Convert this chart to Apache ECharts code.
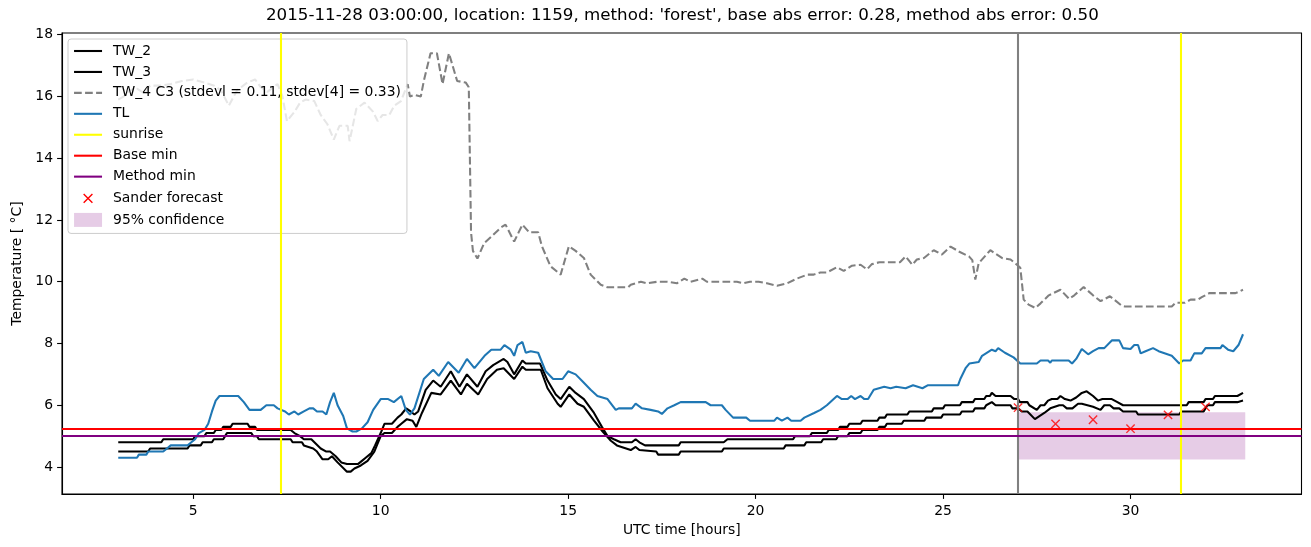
<!DOCTYPE html>
<html><head><meta charset="utf-8">
<script src="https://cdn.jsdelivr.net/npm/echarts@6/dist/echarts.min.js"></script>
<style>html,body{margin:0;padding:0;background:#fff}#c{width:1311px;height:547px}</style>
</head><body><div id="c"></div>
<script>
const titleText = "2015-11-28 03:00:00, location: 1159, method: 'forest', base abs error: 0.28, method abs error: 0.50";
const names = ['TW_2', 'TW_3', 'TW_4 C3 (stdevl = 0.11, stdev[4] = 0.33)', 'TL', 'sunrise', 'Base min', 'Method min', 'Sander forecast', '95% confidence'];
const xTicks = [5, 10, 15, 20, 25, 30];
const yTicks = [4, 6, 8, 10, 12, 14, 16, 18];

const tw2 = [[3.0,4.8],[4.15,4.8],[4.2,4.9],[5.0,4.9],[5.05,5.0],[5.3,5.0],[5.35,5.1],[5.55,5.1],[5.6,5.2],[5.75,5.2],[5.8,5.3],[6.0,5.3],[6.05,5.4],[6.45,5.4],[6.5,5.3],[6.65,5.3],[6.7,5.2],[7.6,5.2],[7.7,5.1],[7.85,5.0],[7.95,4.9],[8.15,4.9],[8.2,4.85],[8.4,4.6],[8.55,4.5],[8.65,4.5],[8.8,4.35],[8.95,4.15],[9.1,4.1],[9.4,4.1],[9.5,4.2],[9.6,4.3],[9.75,4.45],[9.85,4.7],[10.0,5.1],[10.1,5.4],[10.3,5.4],[10.45,5.6],[10.55,5.7],[10.68,5.9],[10.8,5.8],[10.9,5.7],[11.0,5.8],[11.2,6.5],[11.4,6.8],[11.6,6.6],[11.87,7.1],[12.1,6.6],[12.3,7.0],[12.58,6.6],[12.8,7.1],[13.0,7.3],[13.28,7.5],[13.38,7.4],[13.56,7.0],[13.78,7.45],[13.87,7.35],[14.25,7.35],[14.45,6.8],[14.67,6.35],[14.8,6.2],[15.03,6.6],[15.2,6.4],[15.42,6.2],[15.69,5.75],[15.9,5.3],[16.05,5.0],[16.22,4.9],[16.4,4.8],[16.7,4.8],[16.8,4.9],[16.9,4.8],[17.05,4.7],[17.95,4.7],[18.0,4.8],[19.15,4.8],[19.25,4.9],[21.0,4.9],[21.05,5.0],[21.45,5.0],[21.5,5.1],[21.9,5.1],[21.95,5.2],[22.2,5.2],[22.25,5.3],[22.45,5.3],[22.5,5.4],[22.8,5.4],[22.85,5.5],[23.25,5.5],[23.3,5.6],[23.45,5.6],[23.5,5.7],[24.05,5.7],[24.1,5.8],[24.7,5.8],[24.75,5.9],[25.0,5.9],[25.05,6.0],[25.45,6.0],[25.5,6.1],[25.8,6.1],[25.85,6.2],[26.1,6.2],[26.15,6.3],[26.25,6.3],[26.3,6.4],[26.4,6.3],[26.8,6.3],[26.9,6.2],[27.0,6.2],[27.05,6.1],[27.25,6.1],[27.3,6.0],[27.5,5.85],[27.6,6.0],[27.7,6.0],[27.8,6.15],[27.9,6.2],[28.05,6.2],[28.13,6.3],[28.25,6.2],[28.4,6.15],[28.55,6.25],[28.7,6.4],[28.83,6.45],[29.0,6.3],[29.13,6.15],[29.25,6.2],[29.5,6.2],[29.65,6.1],[29.8,6.0],[31.5,6.0],[31.55,6.1],[31.95,6.1],[32.0,6.2],[32.2,6.2],[32.25,6.3],[32.85,6.3],[33.0,6.4]];

const tw3 = [[3.0,4.5],[3.8,4.5],[3.85,4.6],[4.85,4.6],[4.9,4.7],[5.2,4.7],[5.25,4.8],[5.5,4.8],[5.55,4.9],[5.8,4.9],[5.85,5.0],[5.9,5.1],[6.55,5.1],[6.6,5.0],[6.7,5.0],[6.75,4.9],[7.6,4.9],[7.65,4.8],[7.9,4.8],[7.95,4.7],[8.2,4.6],[8.3,4.5],[8.45,4.25],[8.6,4.25],[8.7,4.35],[8.85,4.15],[9.1,3.85],[9.2,3.85],[9.3,3.95],[9.47,4.05],[9.65,4.2],[9.83,4.5],[10.0,5.0],[10.1,5.1],[10.3,5.1],[10.45,5.3],[10.55,5.4],[10.7,5.55],[10.85,5.5],[10.95,5.3],[11.1,5.75],[11.35,6.4],[11.6,6.35],[11.87,6.8],[12.14,6.35],[12.3,6.7],[12.6,6.35],[12.84,6.85],[13.1,7.15],[13.28,7.2],[13.56,6.85],[13.78,7.25],[13.87,7.15],[14.27,7.15],[14.45,6.55],[14.72,6.05],[14.8,5.95],[15.03,6.35],[15.25,6.05],[15.42,5.95],[15.69,5.5],[15.92,5.15],[16.14,4.85],[16.3,4.7],[16.67,4.55],[16.8,4.65],[16.9,4.55],[17.35,4.5],[17.4,4.4],[17.95,4.4],[18.0,4.5],[19.1,4.5],[19.15,4.6],[20.75,4.6],[20.8,4.7],[21.3,4.7],[21.35,4.8],[21.75,4.8],[21.8,4.9],[22.15,4.9],[22.2,5.0],[22.45,5.0],[22.5,5.1],[22.8,5.1],[22.85,5.2],[23.25,5.2],[23.3,5.3],[23.45,5.3],[23.5,5.4],[23.9,5.4],[23.95,5.5],[24.5,5.5],[24.55,5.6],[24.95,5.6],[25.0,5.7],[25.45,5.7],[25.5,5.8],[25.8,5.8],[25.85,5.9],[26.1,5.9],[26.15,6.0],[26.3,6.1],[26.4,6.0],[26.8,6.0],[26.85,5.9],[27.0,5.9],[27.1,5.8],[27.25,5.8],[27.45,5.55],[27.7,5.75],[27.86,5.9],[28.1,6.0],[28.2,6.0],[28.3,5.9],[28.45,5.9],[28.6,6.05],[28.7,6.05],[28.85,6.0],[29.0,5.95],[29.2,5.85],[29.3,6.0],[29.45,6.0],[29.55,5.9],[29.7,5.9],[29.8,5.8],[30.15,5.8],[30.2,5.7],[31.3,5.7],[31.35,5.8],[31.95,5.8],[32.05,6.0],[32.2,6.0],[32.25,6.1],[32.85,6.1],[33.0,6.15]];

const tw4 = [[3.0,15.9],[3.15,16.0],[3.3,16.2],[3.5,16.25],[3.7,16.1],[3.85,16.35],[4.1,16.35],[4.4,16.4],[4.7,16.5],[5.0,16.55],[5.3,16.45],[5.56,16.35],[5.74,16.2],[5.95,15.7],[6.17,16.2],[6.44,16.45],[6.65,16.55],[6.8,16.3],[6.98,16.15],[7.25,16.4],[7.38,16.0],[7.5,15.2],[7.7,15.5],[7.85,15.8],[8.0,15.9],[8.23,15.85],[8.4,15.4],[8.58,15.1],[8.75,14.6],[8.9,15.05],[9.12,15.05],[9.17,14.55],[9.35,15.6],[9.57,15.8],[9.8,15.5],[9.92,15.2],[10.05,15.4],[10.23,15.4],[10.36,15.7],[10.54,15.85],[10.72,16.4],[10.78,16.0],[10.9,16.05],[11.07,16.0],[11.15,16.5],[11.33,17.4],[11.5,17.4],[11.65,16.4],[11.82,17.4],[12.04,16.5],[12.27,16.45],[12.35,16.3],[12.41,11.6],[12.46,11.0],[12.58,10.75],[12.76,11.25],[12.94,11.45],[13.2,11.75],[13.33,11.85],[13.56,11.3],[13.78,11.85],[13.96,11.6],[14.2,11.6],[14.3,11.15],[14.53,10.5],[14.8,10.23],[15.02,11.15],[15.2,11.0],[15.42,10.77],[15.6,10.23],[15.87,9.9],[16.05,9.82],[16.6,9.82],[16.67,9.9],[16.94,10.0],[17.1,9.95],[17.38,10.0],[17.65,10.0],[17.9,9.95],[18.1,10.1],[18.26,10.0],[18.58,10.1],[18.7,10.0],[19.5,10.0],[19.68,9.95],[19.85,10.0],[20.08,10.0],[20.3,9.95],[20.57,9.87],[20.84,9.95],[21.1,10.1],[21.38,10.23],[21.55,10.23],[21.73,10.3],[21.9,10.3],[22.17,10.47],[22.35,10.35],[22.57,10.52],[22.8,10.55],[22.97,10.4],[23.1,10.57],[23.3,10.63],[23.85,10.63],[24.0,10.82],[24.18,10.55],[24.3,10.72],[24.49,10.77],[24.75,11.02],[24.97,10.88],[25.2,11.14],[25.42,10.98],[25.69,10.82],[25.78,10.7],[25.86,10.07],[25.95,10.6],[26.26,11.02],[26.57,10.77],[26.8,10.72],[26.97,10.55],[27.06,10.45],[27.15,9.42],[27.28,9.26],[27.46,9.15],[27.6,9.3],[27.82,9.56],[28.13,9.74],[28.36,9.45],[28.5,9.56],[28.75,9.83],[29.0,9.56],[29.2,9.37],[29.45,9.53],[29.76,9.23],[29.85,9.2],[31.1,9.2],[31.2,9.32],[31.45,9.32],[31.6,9.42],[31.8,9.42],[31.9,9.5],[32.1,9.63],[32.8,9.63],[33.0,9.74]];

const tl = [[3.0,4.3],[3.5,4.3],[3.55,4.4],[3.75,4.4],[3.8,4.5],[4.2,4.5],[4.3,4.6],[4.4,4.7],[4.85,4.7],[4.95,4.8],[5.05,4.9],[5.15,5.1],[5.3,5.2],[5.4,5.4],[5.5,5.8],[5.6,6.15],[5.7,6.3],[6.2,6.3],[6.35,6.1],[6.5,5.85],[6.8,5.85],[6.95,6.0],[7.15,6.0],[7.25,5.9],[7.45,5.8],[7.55,5.7],[7.7,5.8],[7.8,5.7],[7.95,5.8],[8.1,5.9],[8.2,5.9],[8.3,5.8],[8.45,5.8],[8.55,5.7],[8.65,6.1],[8.75,6.4],[8.85,6.0],[9.0,5.65],[9.1,5.25],[9.25,5.15],[9.35,5.15],[9.5,5.25],[9.65,5.45],[9.8,5.85],[10.0,6.2],[10.2,6.2],[10.35,6.1],[10.55,6.3],[10.67,5.85],[10.78,5.7],[10.9,5.9],[11.15,6.85],[11.4,7.15],[11.55,6.95],[11.8,7.4],[12.08,7.05],[12.3,7.5],[12.5,7.2],[12.77,7.6],[12.95,7.8],[13.2,7.8],[13.3,7.95],[13.47,7.8],[13.56,7.6],[13.65,7.95],[13.78,8.05],[13.87,7.7],[14.0,7.75],[14.2,7.7],[14.4,7.1],[14.6,6.85],[14.85,6.85],[15.0,7.1],[15.2,7.0],[15.4,6.75],[15.6,6.5],[15.78,6.3],[16.05,6.2],[16.27,5.85],[16.35,5.9],[16.7,5.9],[16.8,6.05],[16.97,5.9],[17.2,5.85],[17.4,5.8],[17.5,5.72],[17.65,5.9],[17.83,6.0],[18.0,6.1],[18.67,6.1],[18.8,6.0],[19.1,6.0],[19.2,5.85],[19.4,5.6],[19.75,5.6],[19.85,5.5],[20.5,5.5],[20.57,5.6],[20.7,5.5],[20.85,5.6],[20.95,5.5],[21.2,5.5],[21.3,5.6],[21.56,5.75],[21.73,5.85],[21.9,6.0],[22.17,6.3],[22.3,6.2],[22.45,6.2],[22.55,6.3],[22.65,6.2],[22.8,6.3],[22.9,6.2],[23.0,6.2],[23.15,6.5],[23.43,6.6],[23.6,6.55],[23.75,6.6],[24.0,6.55],[24.2,6.65],[24.45,6.55],[24.6,6.65],[25.4,6.65],[25.46,6.85],[25.6,7.2],[25.7,7.35],[25.95,7.4],[26.04,7.6],[26.3,7.8],[26.4,7.75],[26.47,7.85],[26.65,7.7],[26.88,7.55],[27.06,7.35],[27.5,7.35],[27.6,7.45],[27.8,7.45],[27.86,7.38],[27.9,7.45],[28.35,7.45],[28.44,7.35],[28.55,7.5],[28.7,7.82],[28.87,7.65],[29.0,7.75],[29.15,7.85],[29.3,7.85],[29.5,8.1],[29.7,8.1],[29.8,7.85],[30.0,7.82],[30.1,7.95],[30.2,7.95],[30.27,7.68],[30.4,7.75],[30.6,7.85],[30.75,7.75],[31.1,7.6],[31.3,7.35],[31.4,7.45],[31.6,7.45],[31.7,7.68],[31.9,7.68],[32.0,7.85],[32.4,7.85],[32.45,7.95],[32.6,7.8],[32.74,7.75],[32.88,7.95],[33.0,8.3]];

const sunriseHours = [7.34, 31.35];
const forecastStartHours = [27.0];
const baseMin = [5.24];
const methodMin = [5.01];
const sanderHours = [27, 28, 29, 30, 31, 32];
const sanderValues = [5.92, 5.40, 5.53, 5.24, 5.69, 5.95];
const confHours = [27.0, 33.06];
const confRange = [4.24, 5.77];

const FONT = 'DejaVu Sans';
const LW = 2.08;
const crossPath = 'path://M0,0L10,10M10,0L0,10';
const crossIcon = 'path://M-3,-3M0,0L10,10M10,0L0,10M13,13';
const bandColor = 'rgba(128,0,128,0.2)';

function lineSeries(name, data, color, type) {
  return {
    name: name, type: 'line', data: data, symbol: 'none', showSymbol: false,
    color: color, lineStyle: { color: color, width: LW, type: type || 'solid' },
    silent: true, z: 2, animation: false
  };
}
function markLineSeries(name, color, axis, values, z) {
  return {
    name: name, type: 'line', data: [], symbol: 'none', color: color,
    lineStyle: { color: color, width: LW }, z: z, animation: false,
    markLine: {
      silent: true, symbol: ['none', 'none'], label: { show: false }, animation: false,
      lineStyle: { color: color, width: LW, type: 'solid' },
      emphasis: { disabled: true },
      data: values.map(v => ({ [axis]: v }))
    }
  };
}

const chart = echarts.init(document.getElementById('c'), null, { renderer: 'canvas' });
chart.setOption({
  animation: false,
  backgroundColor: '#fff',
  title: {
    text: titleText, left: 266, top: 7, padding: 0,
    textStyle: { fontFamily: FONT, fontSize: 16.7, fontWeight: 'normal', color: '#000' }
  },
  grid: { left: 62, right: 9.5, top: 33, bottom: 53, show: true, borderColor: '#000', borderWidth: 1.1, backgroundColor: 'transparent' },
  legend: {
    orient: 'vertical', left: 68, top: 39,
    padding: [5, 6, 6.5, 5], itemGap: 6.94, itemWidth: 28, itemHeight: 14,
    backgroundColor: 'rgba(255,255,255,0.8)', borderColor: '#cccccc', borderWidth: 1, borderRadius: 3,
    textStyle: { fontFamily: FONT, fontSize: 13.9, lineHeight: 14, color: '#000', padding: [0, 0, 0, 6] },
    lineStyle: { width: 'inherit' },
    itemStyle: { opacity: 0 },
    selectedMode: false,
    data: [
      { name: names[0] }, { name: names[1] }, { name: names[2] }, { name: names[3] },
      { name: names[4] }, { name: names[5] }, { name: names[6] },
      { name: names[7], icon: crossIcon, itemStyle: { opacity: 1, color: 'red', borderColor: 'red', borderWidth: 1.4 } },
      { name: names[8], icon: 'rect', itemStyle: { opacity: 1, color: bandColor, borderWidth: 0 } }
    ]
  },
  xAxis: {
    type: 'value', min: 1.5, max: 34.56,
    name: 'UTC time [hours]', nameLocation: 'middle', nameGap: 29,
    nameTextStyle: { fontFamily: FONT, fontSize: 13.9, color: '#000' },
    axisLine: { show: true, lineStyle: { color: '#000', width: 1.1 } },
    axisTick: { show: true, length: 4.9, lineStyle: { color: '#000', width: 1.1 }, customValues: xTicks },
    axisLabel: { fontFamily: FONT, fontSize: 13.9, color: '#000', margin: 10, customValues: xTicks },
    splitLine: { show: false }
  },
  yAxis: {
    type: 'value', min: 3.126, max: 18.055,
    name: 'Temperature [ °C]', nameLocation: 'middle', nameGap: 37, nameRotate: 90,
    nameTextStyle: { fontFamily: FONT, fontSize: 13.9, color: '#000' },
    axisLine: { show: true, lineStyle: { color: '#000', width: 1.1 } },
    axisTick: { show: true, length: 4.9, lineStyle: { color: '#000', width: 1.1 }, customValues: yTicks },
    axisLabel: { fontFamily: FONT, fontSize: 13.9, color: '#000', margin: 9, customValues: yTicks },
    splitLine: { show: false }
  },
  series: [
    {
      name: names[8], type: 'line', data: [], symbol: 'none', color: bandColor, z: 1, animation: false,
      lineStyle: { width: 0 },
      markArea: {
        silent: true, animation: false, label: { show: false },
        itemStyle: { color: bandColor, borderWidth: 0 },
        data: [[{ coord: [confHours[0], confRange[0]] }, { coord: [confHours[1], confRange[1]] }]]
      }
    },
    lineSeries(names[0], tw2, '#000000'),
    lineSeries(names[1], tw3, '#000000'),
    lineSeries(names[2], tw4, '#808080', [7.7, 3.33]),
    lineSeries(names[3], tl, '#1f77b4'),
    markLineSeries('forecast start', '#808080', 'xAxis', forecastStartHours, 3),
    markLineSeries(names[4], '#ffff00', 'xAxis', sunriseHours, 3),
    markLineSeries(names[5], '#ff0000', 'yAxis', baseMin, 3),
    markLineSeries(names[6], '#800080', 'yAxis', methodMin, 3),
    {
      name: names[7], type: 'scatter', z: 3, animation: false, silent: true,
      data: sanderHours.map((h, i) => [h, sanderValues[i]]),
      symbol: crossPath, symbolSize: 8.3,
      itemStyle: { color: 'red', borderColor: 'red', borderWidth: 1.4 }
    }
  ]
});
</script>
</body></html>
